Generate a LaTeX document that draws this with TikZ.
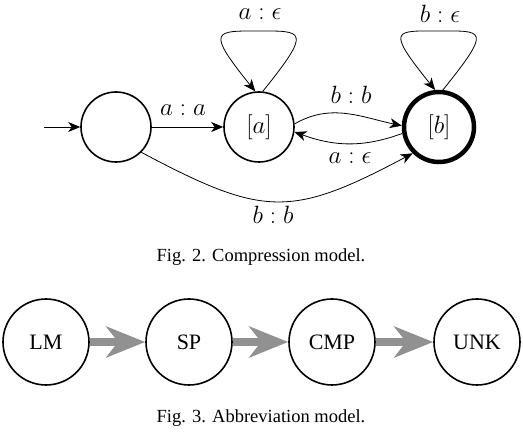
\RequirePackage{fix-cm}
\documentclass[tikz,border=0pt]{standalone}
\usepackage{fontspec}
\setmainfont{Liberation Serif}
\usetikzlibrary{arrows.meta}
\begin{document}
\begin{tikzpicture}[x=1pt,y=-1pt,
  st/.style={circle,draw,line width=1.6pt,minimum size=70pt,inner sep=0pt,font=\fontsize{25}{30}\selectfont},
  fin/.style={st,line width=4.5pt},
  edge/.style={line width=0.8pt,-{Stealth[length=12pt,width=10pt,inset=3.5pt]}},
  lbl/.style={font=\fontsize{25}{30}\selectfont,inner sep=0pt},
  figcaption/.style={font=\fontsize{18.5}{22}\selectfont,inner sep=0pt},
  ab/.style={circle,draw,line width=1.6pt,minimum size=86pt,inner sep=0pt,font=\fontsize{22}{26}\selectfont},
  bigarrow/.style={draw=black!43,line width=8pt,-{Stealth[length=39pt,width=31pt,inset=12pt]}}
]
\useasboundingbox (0,0) rectangle (523,438);
% Fig 2
\node[st] (s) at (116,127) {};
\node[st] (a) at (259,127) {$[a]$};
\node[fin] (b) at (439,127) {$[b]$};
\coordinate (init) at (44,127);
\draw[edge] (init) -- (s.west);
\draw[edge] (s) -- (a);
\draw[edge] (a.84) .. controls +(50,-62) and +(44,0) .. (259,31) coordinate (ta)
  .. controls +(-44,0) and +(-50,-62) .. (a.96);
\draw[edge] (b.84) .. controls +(50,-62) and +(44,0) .. (439,31) coordinate (tb)
  .. controls +(-44,0) and +(-50,-62) .. (b.96);
\draw[edge] (a.5) to[out=30,in=168] (b.178);
\draw[edge] (b.190) to[out=200,in=-20] (a.352);
\draw[edge] (s.-45) to[out=-28,in=-152,looseness=1.3] (b.-135);
\node[lbl] (l1) at (183,110) {$a:a$};
\node[lbl] (l2) at (260,14) {$a:\epsilon$};
\node[lbl] (l3) at (440,14) {$b:\epsilon$};
\node[lbl] (l4) at (351,95) {$b:b$};
\node[lbl] (l5) at (350,158) {$a:\epsilon$};
\node[lbl] (l6) at (273,215) {$b:b$};
\node[figcaption] (c1) at (261,257) {Fig. 2. Compression model.};
% Fig 3
\node[ab] (lm) at (46,342) {LM};
\node[ab] (sp) at (189,342) {SP};
\node[ab] (cmp) at (332,342) {CMP};
\node[ab] (unk) at (477,342) {UNK};
\draw[bigarrow] (lm) -- (sp);
\draw[bigarrow] (sp) -- (cmp);
\draw[bigarrow] (cmp) -- (unk);
\node[figcaption] (c2) at (261,418) {Fig. 3. Abbreviation model.};
\end{tikzpicture}
\end{document}
